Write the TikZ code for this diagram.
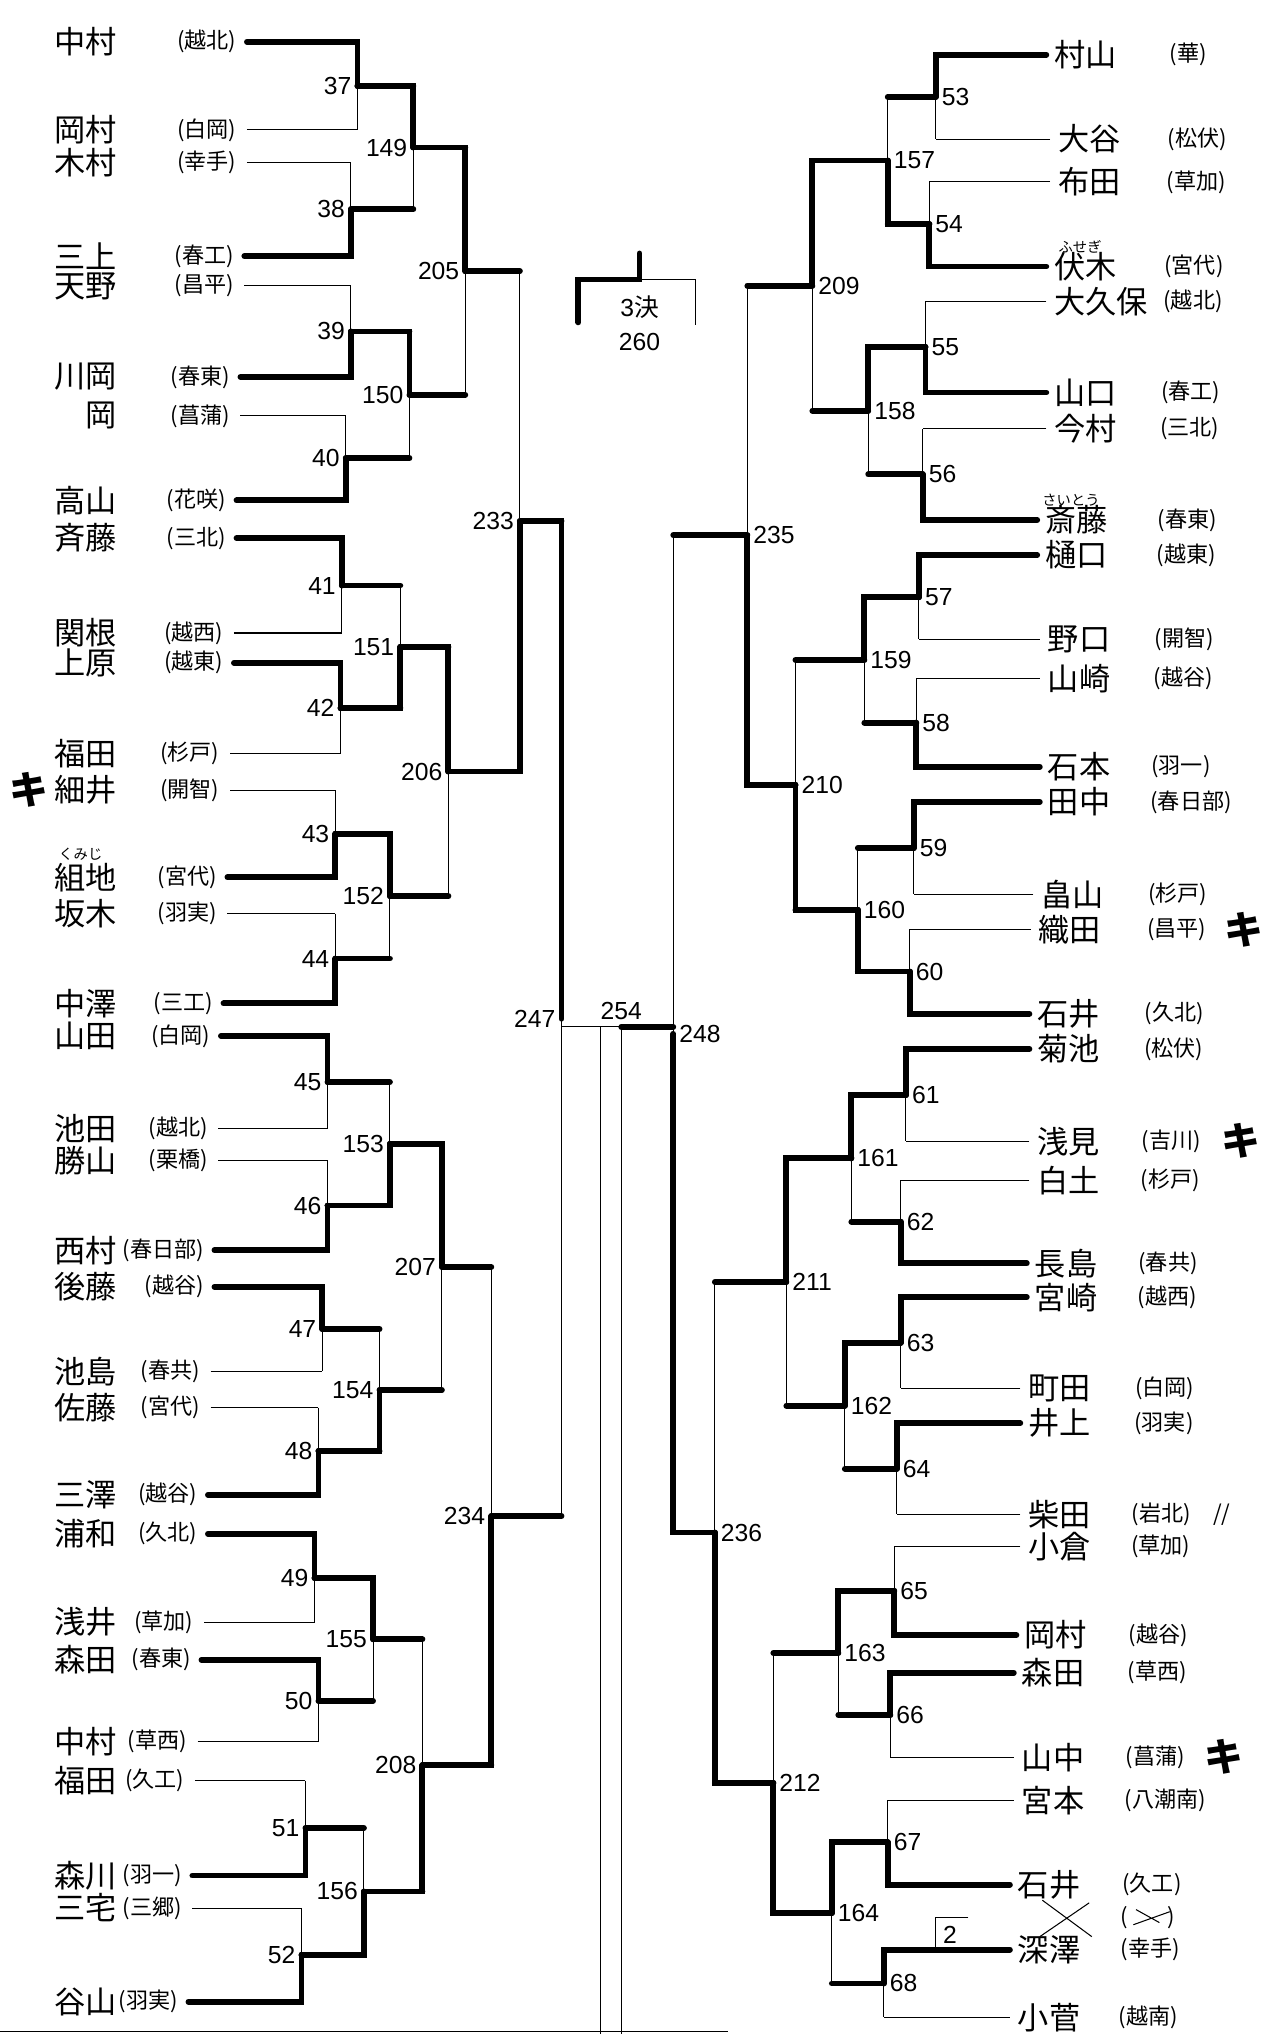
\documentclass[tikz,border=0pt]{standalone}
\usepackage{fontspec}
\newfontfamily\jp{Noto Sans CJK JP}
\newfontfamily\numfont{Liberation Sans}
\usetikzlibrary{calc}
\tikzset{
  win/.style={line width=4.5pt,line cap=round},
  lose/.style={line width=0.8pt},
  num/.style={font=\numfont\fontsize{19}{19}\selectfont,inner sep=1.5pt},
  pname/.style={font=\jp\fontsize{24}{24}\selectfont,inner sep=0pt},
  school/.style={font=\jp\fontsize{17}{17}\selectfont,inner sep=0pt},
  kana/.style={font=\jp\fontsize{11}{11}\selectfont,inner sep=0pt},
  kimark/.style={font=\jp\bfseries\fontsize{30}{30}\selectfont,inner sep=0pt},
}
\begin{document}
\begin{tikzpicture}[x=1pt,y=-1pt]
  \useasboundingbox[fill=white] (0,0) rectangle (986,1568);
  % left players
  \foreach \i/\xs/\y/\nm/\sc in {1/190/32/中村/越北,2/190/100/岡村/白岡,3/190/125/木村/幸手,
      4/188/197/三上/春工,5/188/220/天野/昌平,6/185/290/川岡/春東,7/185/320/岡/菖蒲,
      8/182/385/高山/花咲,9/182/414/斉藤/三北,10/180/487/関根/越西,11/180/510/上原/越東,
      12/177/580/福田/杉戸,13/177/608/細井/開智,14/175/675/組地/宮代,15/175/703/坂木/羽実,
      16/172/772/中澤/三工,17/170/797/山田/白岡,18/168/868/池田/越北,19/168/893/勝山/栗橋,
      20/165/962/西村/春日部,21/165/990/後藤/越谷,22/162/1055/池島/春共,23/162/1083/佐藤/宮代,
      24/160/1150/三澤/越谷,25/160/1180/浦和/久北,26/157/1248/浅井/草加,27/155/1277/森田/春東,
      28/152/1340/中村/草西,29/150/1370/福田/久工,30/148/1443/森川/羽一,31/148/1468/三宅/三郷,
      32/145/1540/谷山/羽実}
  {
    \coordinate (L\i) at (\xs,\y);
    \node[school,anchor=east] (Ls\i) at ({\xs-8},\y) {(\sc)};
    \node[pname,anchor=east] (Ln\i) at (90,\y) {\nm};
  }
  % right players
  \foreach \i/\xe/\y/\nm/\sc in {1/805/42/村山/華,2/808/107/大谷/松伏,3/808/140/布田/草加,
      4/805/205/伏木/宮代,5/805/232/大久保/越北,6/805/302/山口/春工,7/805/330/今村/三北,
      8/798/400/斎藤/春東,9/798/427/樋口/越東,10/800/492/野口/開智,11/800/522/山崎/越谷,
      12/800/590/石本/羽一,13/800/617/田中/春日部,14/795/688/畠山/杉戸,15/793/715/織田/昌平,
      16/792/780/石井/久北,17/792/807/菊池/松伏,18/792/878/浅見/吉川,19/792/908/白土/杉戸,
      20/790/972/長島/春共,21/790/998/宮崎/越西,22/785/1068/町田/白岡,23/785/1095/井上/羽実,
      24/785/1165/柴田/岩北,25/785/1190/小倉/草加,26/782/1258/岡村/越谷,27/780/1287/森田/草西,
      28/780/1352/山中/菖蒲,29/780/1385/宮本/八潮南,30/777/1450/石井/久工,
      32/777/1500/深澤/幸手,33/777/1552/小菅/越南}
  {
    \coordinate (R\i) at (\xe,\y);
    \node[pname,anchor=west] (Rn\i) at ({\xe+6},\y) {\nm};
    \node[school,anchor=west] (Rs\i) at ({901-0.026*\y},\y) {(\sc)};
  }
  % crossed-out entry
  \coordinate (R31) at (745,1475);
  \node[school,anchor=west] (Rs31) at (862,1475) {(\hspace{30pt})};
  \draw[lose] (802,1462) -- (840,1490) (800,1490) -- (838,1464);
  \draw[lose] (Rs31.south west) ++(10,-3) -- ++(28,-10) (Rs31.north west) ++(12,3) -- ++(18,10);
  % preliminary 2
  \coordinate (v) at (720,0);
  \draw[lose] (R31) -- (R31 -| v) -- (R32 -| v);
  \node[num,anchor=west] (n2) at (724,1489) {2};
  % left bracket
  \foreach \m/\a/\b/\vx/\w/\s in {37/L1/L2/275/L1/lose,38/L3/L4/270/L4/lose,39/L5/L6/270/L6/lose,
      40/L7/L8/266/L8/lose,41/L9/L10/263/L9/lose,42/L11/L12/262/L11/lose,43/L13/L14/258/L14/lose,
      44/L15/L16/258/L16/lose,45/L17/L18/252/L17/lose,46/L19/L20/252/L20/lose,47/L21/L22/248/L21/lose,
      48/L23/L24/245/L24/lose,49/L25/L26/242/L25/lose,50/L27/L28/245/L27/lose,51/L29/L30/235/L30/lose,
      52/L31/L32/232/L32/lose,
      149/M37/M38/318/M37/win,150/M39/M40/315/M39/win,151/M41/M42/308/M42/win,152/M43/M44/300/M43/win,
      153/M45/M46/300/M46/win,154/M47/M48/292/M48/win,155/M49/M50/287/M49/win,156/M51/M52/280/M52/win,
      205/M149/M150/358/M149/win,206/M151/M152/345/M151/win,207/M153/M154/340/M153/win,
      208/M155/M156/325/M156/win,233/M205/M206/400/M206/win,234/M207/M208/378/M208/win,
      247/M233/M234/432/M233/win}
  {
    \coordinate (v) at (\vx,0);
    \draw[lose] (\a -| v) -- (\b -| v);
    \draw[\s] (\a) -- (\a -| v);
    \draw[\s] (\b) -- (\b -| v);
    \coordinate (M\m) at ($(\a -| v)!.5!(\b -| v)$);
    \draw[win] (\w) -- (\w -| v) -- (M\m);
    \node[num,anchor=east] (n\m) at ($(M\m)+(-3,0)$) {\m};
  }
  % right bracket
  \foreach \m/\a/\b/\vx/\w/\s in {53/R1/R2/720/R1/lose,54/R3/R4/715/R4/lose,55/R5/R6/712/R6/lose,
      56/R7/R8/710/R8/lose,57/R9/R10/707/R9/lose,58/R11/R12/705/R12/lose,59/R13/R14/703/R13/lose,
      60/R15/R16/700/R16/lose,61/R17/R18/697/R17/lose,62/R19/R20/693/R20/lose,63/R21/R22/693/R21/lose,
      64/R23/R24/690/R23/lose,65/R25/R26/688/R26/lose,66/R27/R28/685/R27/lose,67/R29/R30/683/R30/lose,
      68/R32/R33/680/R32/lose,
      157/M53/M54/683/M54/win,158/M55/M56/668/M55/win,159/M57/M58/665/M57/win,160/M59/M60/660/M60/win,
      161/M61/M62/655/M61/win,162/M63/M64/650/M63/win,163/M65/M66/645/M65/win,164/M67/M68/640/M67/win,
      209/M157/M158/625/M157/win,210/M159/M160/612/M160/win,211/M161/M162/605/M161/win,
      212/M163/M164/595/M164/win,235/M209/M210/575/M210/win,236/M211/M212/550/M212/win,
      248/M235/M236/518/M236/win}
  {
    \coordinate (v) at (\vx,0);
    \draw[lose] (\a -| v) -- (\b -| v);
    \draw[\s] (\a) -- (\a -| v);
    \draw[\s] (\b) -- (\b -| v);
    \coordinate (M\m) at ($(\a -| v)!.5!(\b -| v)$);
    \draw[win] (\w) -- (\w -| v) -- (M\m);
    \node[num,anchor=west] (n\m) at ($(M\m)+(3,0)$) {\m};
  }
  % final
  \coordinate (F) at (478,790);
  \coordinate (Fb) at (478,1565);
  \draw[lose] (M247) -- (M247 |- F) -- (M248 |- F) -- (M248);
  \draw[win] (M248 |- F) -- (F);
  \draw[lose] (F) -- (Fb) (462,790) -- (462,1565);
  \node[num,anchor=south] (n254) at (478,786) {254};
  % third place
  \coordinate (T) at (492,215);
  \coordinate (T1) at (445,248);
  \coordinate (T2) at (535,250);
  \draw[lose] (T1) |- (T) -| (T2);
  \draw[win] (T1) |- (T) -- (492,195);
  \node[num] (n3k) at (492,236) {3\jp 決};
  \node[num] (n260) at (492,263) {260};
  % notes
  \node[kana] (k14) at (62,657) {くみじ};
  \node[kana] (k4) at (831,190) {ふせぎ};
  \node[kana] (k8) at (824,385) {さいとう};
  \node[kimark] (ki1) at (22,608) {キ};
  \node[kimark] (ki2) at (957,715) {キ};
  \node[kimark] (ki3) at (955,878) {キ};
  \node[kimark] (ki4) at (942,1352) {キ};
  \node[school] (sl24) at (940,1165) {//};
  \draw[lose] (0,1563) -- (560,1563);
\end{tikzpicture}
\end{document}
